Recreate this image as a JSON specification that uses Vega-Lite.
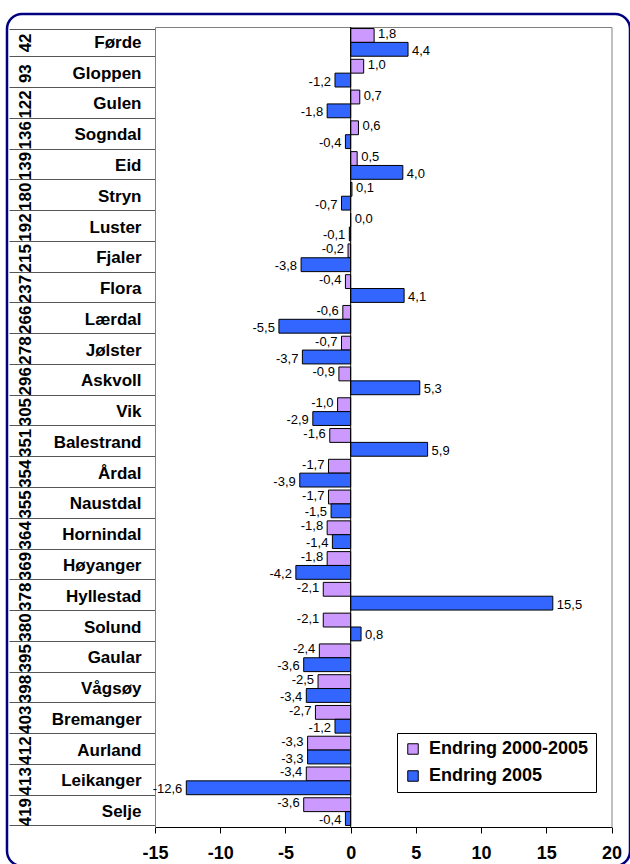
{
  "$schema": "https://vega.github.io/schema/vega-lite/v6.json",
  "width": 623,
  "height": 852,
  "padding": {"left": 7, "top": 14, "right": 0, "bottom": 0},
  "autosize": {"type": "none"},
  "config": {
    "font": "Liberation Sans",
    "view": {"stroke": "#000080", "strokeWidth": 2.5, "cornerRadius": 15, "fill": "white"},
    "locale": {"number": {"decimal": ",", "thousands": " ", "grouping": [3], "currency": ["", ""], "minus": "-"}},
    "legend": {
      "orient": "none", "legendX": 390, "legendY": 719,
      "strokeColor": "black", "strokeWidth": 1, "fillColor": "white", "padding": 7,
      "symbolType": "square", "symbolSize": 110, "symbolStrokeColor": "black", "symbolStrokeWidth": 1,
      "labelFont": "Liberation Sans", "labelFontWeight": "bold", "labelFontSize": 18, "labelColor": "black",
      "labelOffset": 7, "rowPadding": 9, "labelLimit": 0
    }
  },
  "datasets": {
    "d": [
      {"rank": 42, "name": "Førde", "series": "Endring 2000-2005", "value": 1.8},
      {"rank": 42, "name": "Førde", "series": "Endring 2005", "value": 4.4},
      {"rank": 93, "name": "Gloppen", "series": "Endring 2000-2005", "value": 1.0},
      {"rank": 93, "name": "Gloppen", "series": "Endring 2005", "value": -1.2},
      {"rank": 122, "name": "Gulen", "series": "Endring 2000-2005", "value": 0.7},
      {"rank": 122, "name": "Gulen", "series": "Endring 2005", "value": -1.8},
      {"rank": 136, "name": "Sogndal", "series": "Endring 2000-2005", "value": 0.6},
      {"rank": 136, "name": "Sogndal", "series": "Endring 2005", "value": -0.4},
      {"rank": 139, "name": "Eid", "series": "Endring 2000-2005", "value": 0.5},
      {"rank": 139, "name": "Eid", "series": "Endring 2005", "value": 4.0},
      {"rank": 180, "name": "Stryn", "series": "Endring 2000-2005", "value": 0.1},
      {"rank": 180, "name": "Stryn", "series": "Endring 2005", "value": -0.7},
      {"rank": 192, "name": "Luster", "series": "Endring 2000-2005", "value": 0.0},
      {"rank": 192, "name": "Luster", "series": "Endring 2005", "value": -0.1},
      {"rank": 215, "name": "Fjaler", "series": "Endring 2000-2005", "value": -0.2},
      {"rank": 215, "name": "Fjaler", "series": "Endring 2005", "value": -3.8},
      {"rank": 237, "name": "Flora", "series": "Endring 2000-2005", "value": -0.4},
      {"rank": 237, "name": "Flora", "series": "Endring 2005", "value": 4.1},
      {"rank": 266, "name": "Lærdal", "series": "Endring 2000-2005", "value": -0.6},
      {"rank": 266, "name": "Lærdal", "series": "Endring 2005", "value": -5.5},
      {"rank": 278, "name": "Jølster", "series": "Endring 2000-2005", "value": -0.7},
      {"rank": 278, "name": "Jølster", "series": "Endring 2005", "value": -3.7},
      {"rank": 296, "name": "Askvoll", "series": "Endring 2000-2005", "value": -0.9},
      {"rank": 296, "name": "Askvoll", "series": "Endring 2005", "value": 5.3},
      {"rank": 305, "name": "Vik", "series": "Endring 2000-2005", "value": -1.0},
      {"rank": 305, "name": "Vik", "series": "Endring 2005", "value": -2.9},
      {"rank": 351, "name": "Balestrand", "series": "Endring 2000-2005", "value": -1.6},
      {"rank": 351, "name": "Balestrand", "series": "Endring 2005", "value": 5.9},
      {"rank": 354, "name": "Årdal", "series": "Endring 2000-2005", "value": -1.7},
      {"rank": 354, "name": "Årdal", "series": "Endring 2005", "value": -3.9},
      {"rank": 355, "name": "Naustdal", "series": "Endring 2000-2005", "value": -1.7},
      {"rank": 355, "name": "Naustdal", "series": "Endring 2005", "value": -1.5},
      {"rank": 364, "name": "Hornindal", "series": "Endring 2000-2005", "value": -1.8},
      {"rank": 364, "name": "Hornindal", "series": "Endring 2005", "value": -1.4},
      {"rank": 369, "name": "Høyanger", "series": "Endring 2000-2005", "value": -1.8},
      {"rank": 369, "name": "Høyanger", "series": "Endring 2005", "value": -4.2},
      {"rank": 378, "name": "Hyllestad", "series": "Endring 2000-2005", "value": -2.1},
      {"rank": 378, "name": "Hyllestad", "series": "Endring 2005", "value": 15.5},
      {"rank": 380, "name": "Solund", "series": "Endring 2000-2005", "value": -2.1},
      {"rank": 380, "name": "Solund", "series": "Endring 2005", "value": 0.8},
      {"rank": 395, "name": "Gaular", "series": "Endring 2000-2005", "value": -2.4},
      {"rank": 395, "name": "Gaular", "series": "Endring 2005", "value": -3.6},
      {"rank": 398, "name": "Vågsøy", "series": "Endring 2000-2005", "value": -2.5},
      {"rank": 398, "name": "Vågsøy", "series": "Endring 2005", "value": -3.4},
      {"rank": 403, "name": "Bremanger", "series": "Endring 2000-2005", "value": -2.7},
      {"rank": 403, "name": "Bremanger", "series": "Endring 2005", "value": -1.2},
      {"rank": 412, "name": "Aurland", "series": "Endring 2000-2005", "value": -3.3},
      {"rank": 412, "name": "Aurland", "series": "Endring 2005", "value": -3.3},
      {"rank": 413, "name": "Leikanger", "series": "Endring 2000-2005", "value": -3.4},
      {"rank": 413, "name": "Leikanger", "series": "Endring 2005", "value": -12.6},
      {"rank": 419, "name": "Selje", "series": "Endring 2000-2005", "value": -3.6},
      {"rank": 419, "name": "Selje", "series": "Endring 2005", "value": -0.4}
    ]
  },
  "data": {"name": "d"},
  "layer": [
    {
      "encoding": {
        "y": {
          "field": "name", "type": "nominal",
          "sort": {"field": "rank", "op": "min", "order": "ascending"},
          "scale": {"range": [13, 813], "paddingInner": 0.1, "paddingOuter": 0.05},
          "axis": {
            "orient": "left", "offset": -148, "title": null,
            "domain": true, "domainColor": "#808080", "domainWidth": 1,
            "ticks": true, "tickBand": "extent", "tickSize": 146, "tickColor": "#555555", "tickWidth": 1,
            "labelAlign": "right", "labelBaseline": "middle", "labelPadding": -132,
            "labelFont": "Liberation Sans", "labelFontWeight": "bold", "labelFontSize": 17, "labelColor": "black",
            "labelLimit": 0, "labelOverlap": false
          }
        },
        "yOffset": {"field": "series", "type": "nominal", "sort": ["Endring 2000-2005", "Endring 2005"]},
        "x": {
          "field": "value", "type": "quantitative",
          "scale": {"domain": [-15, 20], "range": [148, 604.5], "nice": false, "zero": false},
          "axis": {
            "orient": "bottom", "offset": -39, "title": null, "grid": false,
            "values": [-15, -10, -5, 0, 5, 10, 15, 20],
            "domain": true, "domainColor": "black", "domainWidth": 1,
            "ticks": true, "tickSize": 6, "tickColor": "black", "tickWidth": 1,
            "labelPadding": 11, "labelFont": "Liberation Sans", "labelFontWeight": "bold", "labelFontSize": 18,
            "labelColor": "black", "labelFlush": false, "labelOverlap": false, "format": "d"
          }
        }
      },
      "layer": [
        {
          "mark": {"type": "bar", "stroke": "black", "strokeWidth": 1},
          "encoding": {
            "color": {
              "field": "series", "type": "nominal",
              "scale": {"domain": ["Endring 2000-2005", "Endring 2005"], "range": ["#CC99FF", "#3366FF"]},
              "legend": {"title": null}
            }
          }
        },
        {
          "mark": {"type": "tick", "orient": "vertical", "color": "black", "thickness": 1, "size": 30.8},
          "encoding": {"x": {"datum": 0}, "yOffset": null}
        },
        {
          "transform": [{"filter": "datum.value >= 0 && datum.series == 'Endring 2000-2005'"}],
          "mark": {"type": "text", "align": "left", "baseline": "middle", "dx": 4, "dy": -1.5, "fontSize": 13, "color": "black"},
          "encoding": {"text": {"field": "value", "type": "quantitative", "format": ".1f"}}
        },
        {
          "transform": [{"filter": "datum.value >= 0 && datum.series == 'Endring 2005'"}],
          "mark": {"type": "text", "align": "left", "baseline": "middle", "dx": 4, "dy": 1.5, "fontSize": 13, "color": "black"},
          "encoding": {"text": {"field": "value", "type": "quantitative", "format": ".1f"}}
        },
        {
          "transform": [{"filter": "datum.value < 0 && datum.series == 'Endring 2000-2005'"}],
          "mark": {"type": "text", "align": "right", "baseline": "middle", "dx": -4, "dy": -1.5, "fontSize": 13, "color": "black"},
          "encoding": {"text": {"field": "value", "type": "quantitative", "format": ".1f"}}
        },
        {
          "transform": [{"filter": "datum.value < 0 && datum.series == 'Endring 2005'"}],
          "mark": {"type": "text", "align": "right", "baseline": "middle", "dx": -4, "dy": 1.5, "fontSize": 13, "color": "black"},
          "encoding": {"text": {"field": "value", "type": "quantitative", "format": ".1f"}}
        }
      ]
    },
    {
      "mark": {"type": "point", "opacity": 0},
      "encoding": {
        "y": {
          "field": "rank", "type": "ordinal", "sort": "ascending",
          "scale": {"range": [13, 813], "paddingInner": 0.1, "paddingOuter": 0.05},
          "axis": {
            "orient": "left", "offset": -2, "title": null, "domain": false, "ticks": false,
            "labelAngle": 270, "labelAlign": "center", "labelBaseline": "middle", "labelPadding": -16.5,
            "labelFont": "Liberation Sans", "labelFontWeight": "bold", "labelFontSize": 17, "labelColor": "black",
            "labelOverlap": false
          }
        }
      }
    },
    {
      "mark": {"type": "point", "opacity": 0},
      "encoding": {
        "x": {
          "field": "value", "type": "quantitative",
          "scale": {"domain": [-15, 20], "range": [148, 604.5], "nice": false, "zero": false},
          "axis": {"orient": "top", "offset": -13, "title": null, "domain": true, "domainColor": "#808080", "ticks": false, "labels": false, "grid": false}
        },
        "y": {
          "field": "name", "type": "nominal",
          "sort": {"field": "rank", "op": "min", "order": "ascending"},
          "scale": {"range": [13, 813], "paddingInner": 0.1, "paddingOuter": 0.05},
          "axis": {"orient": "right", "offset": -18.5, "title": null, "domain": true, "domainColor": "#808080", "ticks": false, "labels": false}
        }
      }
    }
  ],
  "resolve": {
    "scale": {"x": "independent", "y": "independent"},
    "axis": {"x": "independent", "y": "independent"}
  }
}
